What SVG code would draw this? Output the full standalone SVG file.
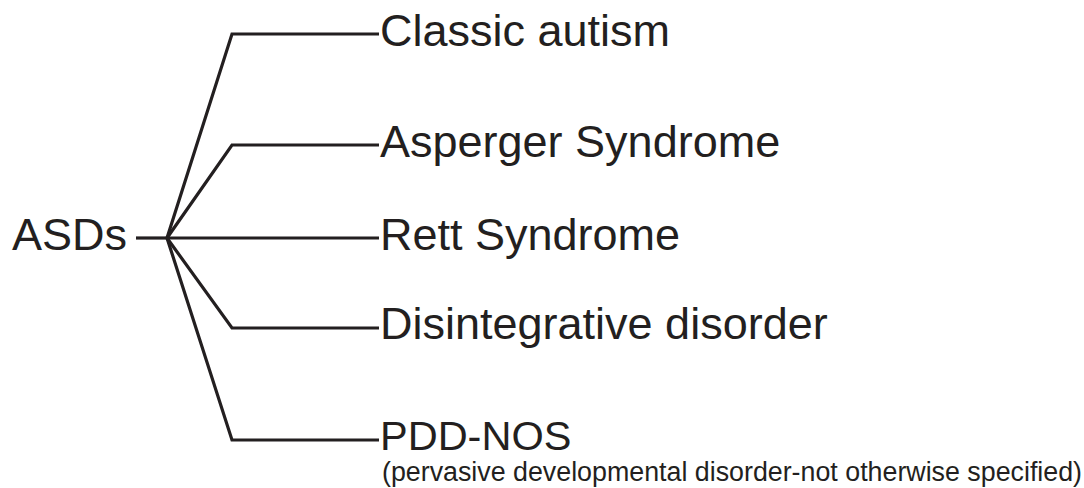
<svg xmlns="http://www.w3.org/2000/svg" width="1084" height="488" viewBox="0 0 1084 488">
<style>
.lbl{font-family:"Liberation Sans",Arial,sans-serif;font-size:45px;fill:#231f20}
.sub{font-family:"Liberation Sans",Arial,sans-serif;font-size:26.8px;fill:#231f20}
.edge{fill:none;stroke:#231f20;stroke-width:3.2;stroke-linejoin:miter}
</style>
<rect width="1084" height="488" fill="#fff"/>
<g id="connectors">
<path class="edge" d="M136,238H167"/>
<path class="edge" d="M167,238L232,34H379"/>
<path class="edge" d="M167,238L232,145H379"/>
<path class="edge" d="M167,238H379"/>
<path class="edge" d="M167,238L232,328H379"/>
<path class="edge" d="M167,238L232,440H379"/>
</g>
<g id="asds"><text class="lbl" x="12" y="250">ASDs</text></g>
<g id="classic"><text class="lbl" x="380" y="46">Classic autism</text></g>
<g id="asperger"><text class="lbl" x="380" y="157">Asperger Syndrome</text></g>
<g id="rett"><text class="lbl" x="380" y="250">Rett Syndrome</text></g>
<g id="disintegrative"><text class="lbl" x="380" y="339">Disintegrative disorder</text></g>
<g id="pddnos"><text class="lbl" x="380" y="450" style="font-size:41.5px">PDD-NOS</text>
<text class="sub" x="382" y="481">(pervasive developmental disorder-not otherwise specified)</text></g>
</svg>
